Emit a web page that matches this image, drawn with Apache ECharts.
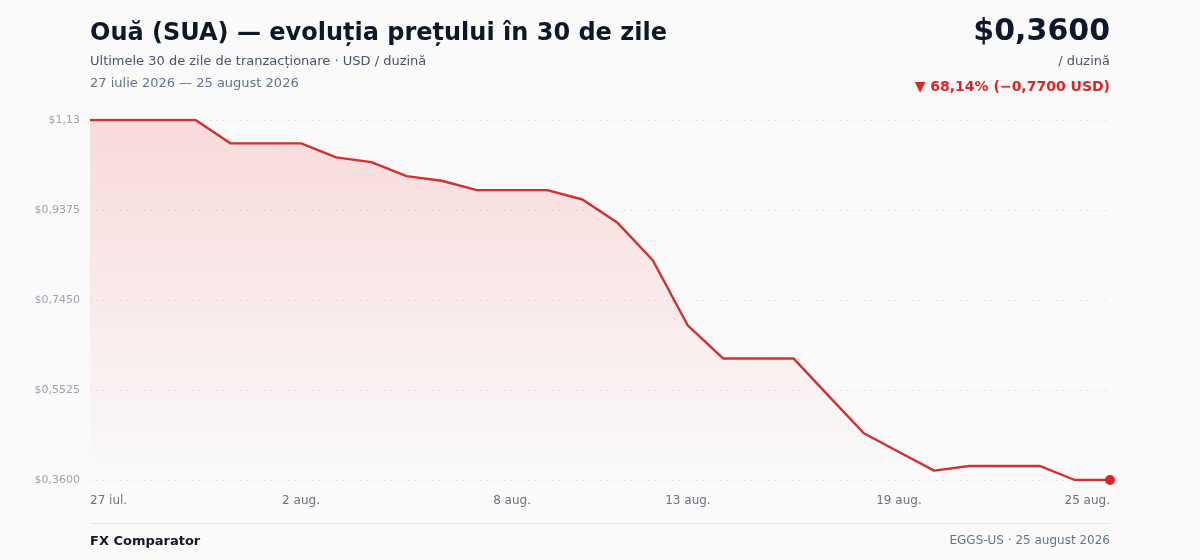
<!DOCTYPE html>
<html>
<head>
<meta charset="utf-8">
<script src="https://cdn.jsdelivr.net/npm/echarts@6/dist/echarts.min.js"></script>
<style>
html,body{margin:0;padding:0;background:#fafafa;}
#c{width:1200px;height:560px;}
</style>
</head>
<body>
<div id="c"></div>
<script>
const categories = ["27 iul.","28 iul.","29 iul.","30 iul.","31 iul.","1 aug.","2 aug.","3 aug.","4 aug.","5 aug.","6 aug.","7 aug.","8 aug.","9 aug.","10 aug.","11 aug.","12 aug.","13 aug.","14 aug.","15 aug.","16 aug.","17 aug.","18 aug.","19 aug.","20 aug.","21 aug.","22 aug.","23 aug.","24 aug.","25 aug."];
const prices = [1.13,1.13,1.13,1.13,1.08,1.08,1.08,1.05,1.04,1.01,1.00,0.98,0.98,0.98,0.96,0.91,0.83,0.69,0.62,0.62,0.62,0.54,0.46,0.42,0.38,0.39,0.39,0.39,0.36,0.36];
const shownLabelIdx = [0,6,12,17,23,29];
const yTickLabels = ["$0,3600","$0,5525","$0,7450","$0,9375","$1,13"];
const yMin = 0.36, yMax = 1.13, yStep = 0.1925;

const FONT = "DejaVu Sans";
const chart = echarts.init(document.getElementById('c'), null, {renderer:'canvas'});
const last = prices.length - 1;
chart.setOption({
  backgroundColor: '#fafafa',
  animation: false,
  textStyle: {fontFamily: FONT},
  grid: {left: 90, right: 90, top: 120, bottom: 80},
  xAxis: {
    type: 'category',
    data: categories,
    boundaryGap: false,
    axisLine: {show: false},
    axisTick: {show: false},
    splitLine: {show: false},
    axisLabel: {
      interval: (i) => shownLabelIdx.includes(i),
      color: '#6b7280', fontSize: 12, fontFamily: FONT, margin: 15,
      alignMinLabel: 'left', alignMaxLabel: 'right'
    }
  },
  yAxis: {
    type: 'value',
    min: yMin, max: yMax, interval: yStep,
    axisLine: {show: false},
    axisTick: {show: false},
    splitLine: {show: true, lineStyle: {color: '#e3e5e9', type: [2, 4], width: 1}},
    axisLabel: {
      color: '#9ca3af', fontSize: 11, fontFamily: FONT, margin: 10,
      formatter: (v, i) => yTickLabels[i] !== undefined ? yTickLabels[i] : ''
    }
  },
  series: [{
    type: 'line',
    data: prices.map((v, i) => i === last ? {value: v, symbol: 'circle', symbolSize: 10, itemStyle: {color: '#dc2626'}} : v),
    showSymbol: true,
    symbol: 'none',
    lineStyle: {color: '#d32f2f', width: 2.4},
    itemStyle: {color: '#dc2626'},
    areaStyle: {
      color: new echarts.graphic.LinearGradient(0, 0, 0, 1, [
        {offset: 0, color: 'rgba(240,45,45,0.22)'},
        {offset: 1, color: 'rgba(240,45,45,0.0)'}
      ])
    }
  }],
  graphic: [
    {type: 'text', left: 90, top: 22, style: {text: 'Ouă (SUA) — evoluția prețului în 30 de zile', font: 'bold 24px "DejaVu Sans"', fill: '#0f172a'}},
    {type: 'text', left: 90, top: 55, style: {text: 'Ultimele 30 de zile de tranzacționare · USD / duzină', font: '13px "DejaVu Sans"', fill: '#475569'}},
    {type: 'text', left: 90, top: 77, style: {text: '27 iulie 2026 — 25 august 2026', font: '13px "DejaVu Sans"', fill: '#64748b'}},
    {type: 'text', right: 90, top: 17, style: {text: '$0,3600', font: 'bold 30px "DejaVu Sans"', fill: '#0f172a'}},
    {type: 'text', right: 90, top: 55, style: {text: '/ duzină', font: '13px "DejaVu Sans"', fill: '#475569'}},
    {type: 'text', right: 90, top: 80, style: {text: '▼ 68,14% (−0,7700 USD)', font: 'bold 14px "DejaVu Sans"', fill: '#dc2626'}},
    {type: 'rect', shape: {x: 90, y: 523, width: 1020, height: 1}, style: {fill: '#e8e9ec'}},
    {type: 'text', left: 90, top: 535, style: {text: 'FX Comparator', font: 'bold 13px "DejaVu Sans"', fill: '#111827'}},
    {type: 'text', right: 90, top: 535, style: {text: 'EGGS-US · 25 august 2026', font: '12px "DejaVu Sans"', fill: '#64748b'}}
  ]
});
</script>
</body>
</html>
